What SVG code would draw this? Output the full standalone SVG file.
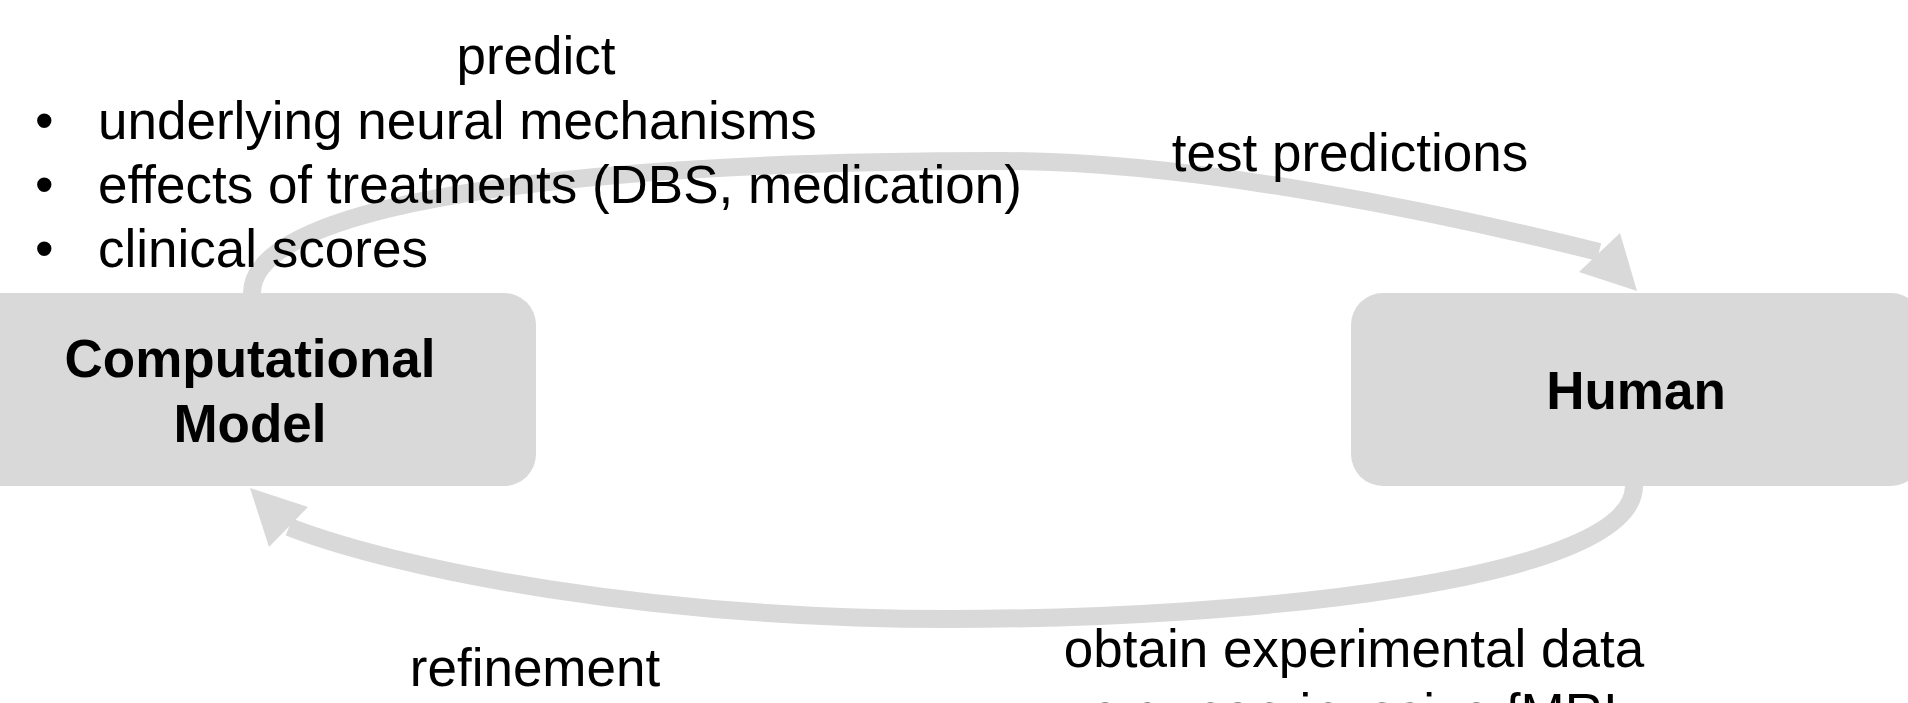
<svg xmlns="http://www.w3.org/2000/svg" width="1908" height="703" viewBox="0 0 1908 703">
<style>
.t{font-family:"Liberation Sans",Arial,sans-serif;font-size:53px;fill:#000}
.b{font-weight:bold}
.box{fill:#d9d9d9}
.arc{fill:none;stroke:#d9d9d9;stroke-width:18}
.head{fill:#d9d9d9}
</style>
<rect width="1908" height="703" fill="#ffffff"/>
<g id="connectors">
<path class="arc" d="M252,293 C252,205 560,161 1000,161 C1200,161 1450,215 1599,252"/>
<polygon class="head" points="1637,291 1579,272 1620,233"/>
<path class="arc" d="M1634,486 C1634,580 1250,619 950,619 C650,619 400,570 289,527"/>
<polygon class="head" points="250,488 308,507 269,547"/>
</g>
<g id="node-computational-model">
<rect class="box" x="-36" y="293" width="572" height="193" rx="32" ry="32"/>
<text class="t b" x="250" y="377" text-anchor="middle">Computational</text>
<text class="t b" x="250" y="441.5" text-anchor="middle">Model</text>
</g>
<g id="node-human">
<rect class="box" x="1351" y="293" width="572" height="193" rx="32" ry="32"/>
<text class="t b" x="1636" y="409" text-anchor="middle">Human</text>
</g>
<g id="label-predict">
<text class="t" x="536" y="74" text-anchor="middle">predict</text>
<text class="t" x="35" y="138.5">•</text>
<text class="t" x="98" y="138.5">underlying neural mechanisms</text>
<text class="t" x="35" y="202.5">•</text>
<text class="t" x="98" y="202.5">effects of treatments (DBS, medication)</text>
<text class="t" x="35" y="266.5">•</text>
<text class="t" x="98" y="266.5">clinical scores</text>
</g>
<g id="label-test">
<text class="t" x="1350" y="170.5" text-anchor="middle">test predictions</text>
</g>
<g id="label-obtain">
<text class="t" x="1354" y="666.5" text-anchor="middle">obtain experimental data</text>
<text class="t" x="1354" y="731" text-anchor="middle">e.g. non-invasive fMRI</text>
</g>
<g id="label-refinement">
<text class="t" x="535" y="686" text-anchor="middle">refinement</text>
</g>
</svg>
